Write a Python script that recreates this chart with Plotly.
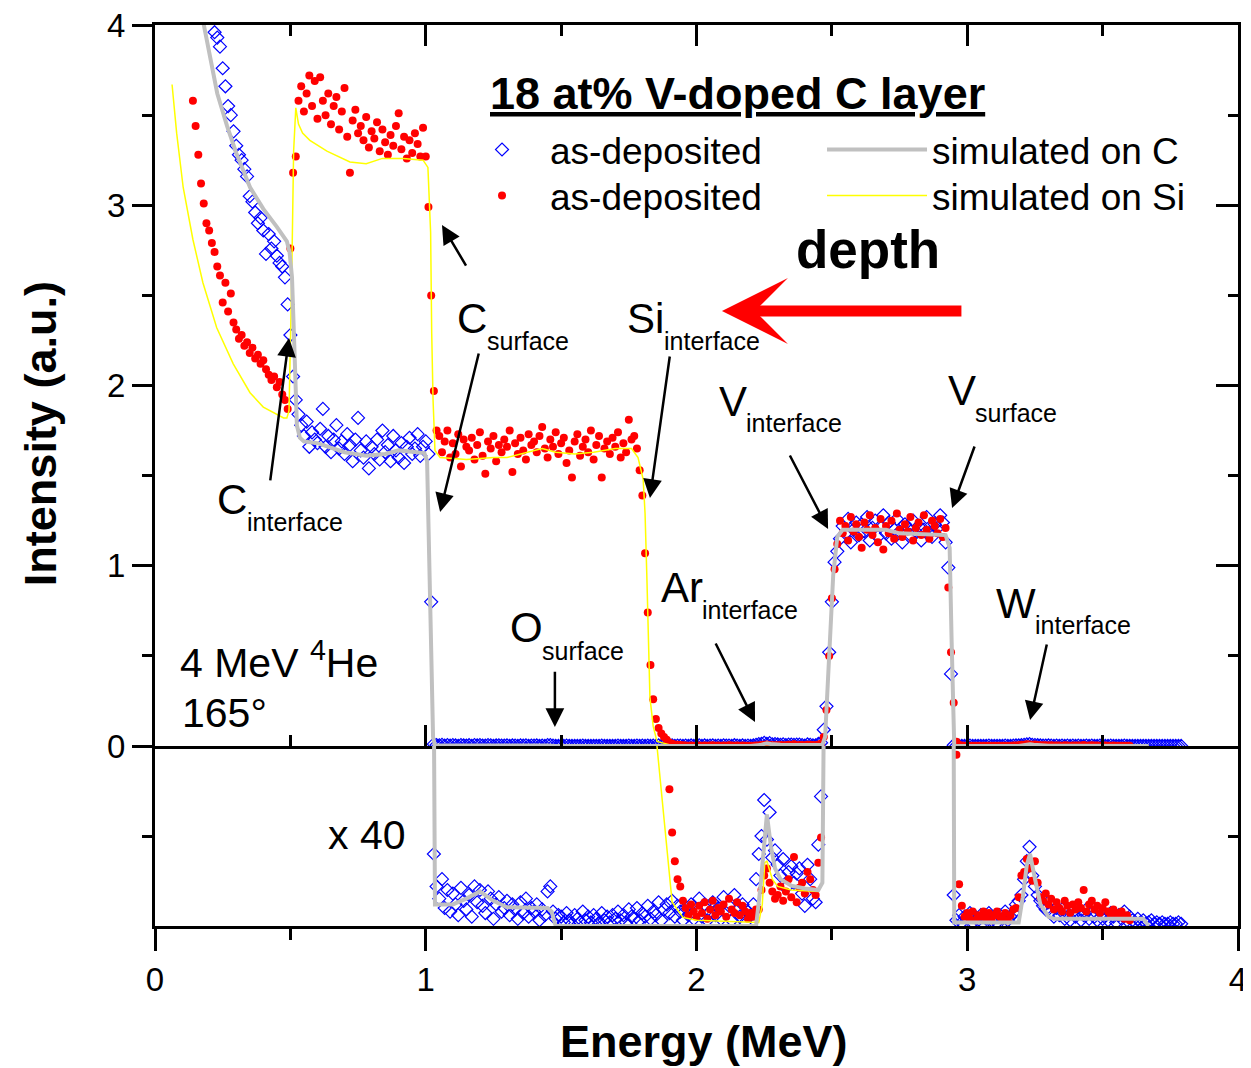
import numpy as np
import plotly.graph_objects as go

FONT = "Liberation Sans, Arial, Helvetica, sans-serif"

# ---------------- data (intensity in a.u., energy in MeV) ----------------
# as-deposited on C substrate (blue diamonds): channels every 0.01 MeV from 0.20 MeV
BLUE_E0 = 0.20
blue_on_C = [
    4.12, 4.06, 3.96, 3.93, 3.88, 3.76, 3.66, 3.55, 3.50, 3.41,   # 0.20
    3.33, 3.28, 3.25, 3.20, 3.16, 3.05, 3.02, 2.96, 2.90, 2.93,   # 0.30
    2.86, 2.73, 2.84, 2.76, 2.80, 2.72, 2.68, 2.66, 2.60, 2.45,   # 0.40
    2.28, 2.05, 1.92, 1.84, 1.78, 1.72, 1.80, 1.66, 1.74, 1.70,   # 0.50
    1.68, 1.76, 1.87, 1.66, 1.72, 1.63, 1.70, 1.78, 1.65, 1.69,   # 0.60
    1.62, 1.73, 1.67, 1.58, 1.70, 1.82, 1.64, 1.60, 1.69, 1.54,   # 0.70
    1.66, 1.62, 1.70, 1.59, 1.75, 1.63, 1.67, 1.58, 1.72, 1.64,   # 0.80
    1.60, 1.68, 1.57, 1.66, 1.71, 1.62, 1.65, 1.73, 1.61, 1.66,   # 0.90
    1.69, 1.62, 0.80, 0.0100, 0.0055, 0.0038, 0.0065, 0.0025, 0.0050, 0.0020,   # 1.00
    0.0045, 0.0030, 0.0015, 0.0053, 0.0035, 0.0023, 0.0043, 0.0013, 0.0055, 0.0033,   # 1.10
    0.0050, 0.0028, 0.0018, 0.0048, 0.0038, 0.0010, 0.0030, 0.0040, 0.0020, 0.0025,   # 1.20
    0.0035, 0.0015, 0.0030, 0.0023, 0.0010, 0.0033, 0.0018, 0.0038, 0.0013, 0.0025,   # 1.30
    0.0020, 0.0030, 0.0008, 0.0023, 0.0015, 0.0048, 0.0055, 0.0020, 0.0010, 0.0015,   # 1.40
    0.0013, 0.0005, 0.0018, 0.0008, 0.0003, 0.0015, 0.0010, 0.0005, 0.0020, 0.0008,   # 1.50
    0.0013, 0.0005, 0.0015, 0.0010, 0.0003, 0.0018, 0.0008, 0.0013, 0.0005, 0.0015,   # 1.60
    0.0010, 0.0020, 0.0008, 0.0015, 0.0005, 0.0023, 0.0013, 0.0010, 0.0025, 0.0008,   # 1.70
    0.0018, 0.0013, 0.0028, 0.0010, 0.0020, 0.0015, 0.0033, 0.0008, 0.0023, 0.0030,   # 1.80
    0.0018, 0.0035, 0.0013, 0.0028, 0.0020, 0.0008, 0.0025, 0.0015, 0.0030, 0.0010,   # 1.90
    0.0023, 0.0038, 0.0013, 0.0030, 0.0008, 0.0020, 0.0033, 0.0015, 0.0025, 0.0010,   # 2.00
    0.0040, 0.0018, 0.0028, 0.0008, 0.0043, 0.0023, 0.0013, 0.0030, 0.0005, 0.0020,   # 2.10
    0.0015, 0.0030, 0.0065, 0.0100, 0.0125, 0.0175, 0.0120, 0.0158, 0.0095, 0.0105,   # 2.20
    0.0085, 0.0070, 0.0093, 0.0053, 0.0075, 0.0083, 0.0060, 0.0073, 0.0080, 0.0045,   # 2.30
    0.0028, 0.0085, 0.0065, 0.0038, 0.0033, 0.0113, 0.0180, 0.09, 0.22, 0.52,         # 2.40
    0.80, 1.02, 1.08, 1.15, 1.22, 1.18, 1.26, 1.13, 1.20, 1.24,   # 2.50
    1.17, 1.23, 1.19, 1.27, 1.14, 1.21, 1.25, 1.16, 1.22, 1.28,   # 2.60
    1.18, 1.24, 1.15, 1.20, 1.26, 1.19, 1.13, 1.23, 1.21, 1.17,   # 2.70
    1.25, 1.19, 1.22, 1.14, 1.20, 1.27, 1.18, 1.16, 1.23, 1.21,   # 2.80
    1.28, 1.24, 1.13, 0.99, 0.40, 0.0043, 0.0008, 0.0015, 0.0005, 0.0013,   # 2.90
    0.0010, 0.0018, 0.0005, 0.0013, 0.0008, 0.0015, 0.0003, 0.0010, 0.0018, 0.0008,   # 3.00
    0.0013, 0.0005, 0.0015, 0.0010, 0.0020, 0.0008, 0.0013, 0.0018, 0.0030, 0.0035,   # 3.10
    0.0043, 0.0065, 0.0090, 0.0110, 0.0070, 0.0055, 0.0043, 0.0035, 0.0028, 0.0023,   # 3.20
    0.0033, 0.0020, 0.0013, 0.0025, 0.0015, 0.0023, 0.0010, 0.0018, 0.0008, 0.0020,   # 3.30
    0.0013, 0.0018, 0.0008, 0.0015, 0.0023, 0.0010, 0.0018, 0.0013, 0.0008, 0.0020,   # 3.40
    0.0010, 0.0015, 0.0008, 0.0018, 0.0013, 0.0005, 0.0015, 0.0010, 0.0020, 0.0008,   # 3.50
    0.0013, 0.0008, 0.0005, 0.0010, 0.0005, 0.0008, 0.0003, 0.0005, 0.0008, 0.0003,   # 3.60
    0.0005, 0.0003, 0.0005, 0.0003, 0.0003, 0.0005, 0.0003, 0.0003, 0.0005, 0.0003,   # 3.70
]

# as-deposited on Si substrate (red dots): channels every 0.01 MeV from 0.14 MeV
RED_E0 = 0.14
red_on_Si = [
    3.58, 3.44, 3.28, 3.12, 3.01, 2.90,                          # 0.14
    2.86, 2.79, 2.74, 2.66, 2.61, 2.46, 2.57, 2.41, 2.51, 2.35,   # 0.20
    2.31, 2.26, 2.28, 2.22, 2.24, 2.18, 2.21, 2.15, 2.17, 2.12,   # 0.30
    2.14, 2.09, 2.06, 2.03, 2.05, 1.99, 2.02, 1.95, 1.92, 1.87,   # 0.40
    2.76, 3.18, 3.27, 3.58, 3.66, 3.52, 3.62, 3.72, 3.55, 3.69,   # 0.50
    3.48, 3.71, 3.58, 3.50, 3.62, 3.45, 3.55, 3.60, 3.42, 3.52,   # 0.60
    3.65, 3.38, 3.18, 3.47, 3.53, 3.40, 3.44, 3.36, 3.49, 3.32,   # 0.70
    3.41, 3.37, 3.46, 3.30, 3.42, 3.35, 3.28, 3.39, 3.33, 3.44,   # 0.80
    3.51, 3.31, 3.38, 3.26, 3.36, 3.29, 3.40, 3.34, 3.27, 3.43,   # 0.90
    3.27, 2.99, 2.50, 1.97, 1.75, 1.72, 1.63, 1.69, 1.75, 1.60,   # 1.00
    1.68, 1.62, 1.73, 1.55, 1.70, 1.66, 1.64, 1.71, 1.59, 1.67,   # 1.10
    1.74, 1.61, 1.51, 1.69, 1.65, 1.72, 1.58, 1.67, 1.63, 1.70,   # 1.20
    1.66, 1.75, 1.52, 1.68, 1.62, 1.71, 1.64, 1.59, 1.73, 1.67,   # 1.30
    1.69, 1.63, 1.72, 1.77, 1.65, 1.60, 1.70, 1.66, 1.74, 1.62,   # 1.40
    1.68, 1.71, 1.57, 1.64, 1.49, 1.69, 1.73, 1.61, 1.66, 1.70,   # 1.50
    1.63, 1.75, 1.59, 1.67, 1.72, 1.49, 1.65, 1.69, 1.62, 1.71,   # 1.60
    1.66, 1.74, 1.60, 1.68, 1.63, 1.81, 1.70, 1.72, 1.65, 1.53,   # 1.70
    1.39, 1.07, 0.74, 0.45, 0.26, 0.15, 0.10, 0.07, 0.05, 0.035,  # 1.80
    0.0190, 0.0130, 0.0090, 0.0065, 0.0055, 0.0035, 0.0025, 0.0015, 0.0030, 0.0020,   # 1.90
    0.0013, 0.0028, 0.0018, 0.0033, 0.0010, 0.0023, 0.0035, 0.0015, 0.0025, 0.0020,   # 2.00
    0.0030, 0.0013, 0.0038, 0.0023, 0.0018, 0.0033, 0.0015, 0.0028, 0.0020, 0.0010,   # 2.10
    0.0018, 0.0013, 0.0023, 0.0023, 0.0050, 0.0070, 0.0080, 0.0060, 0.0048, 0.0038,   # 2.20
    0.0043, 0.0055, 0.0035, 0.0048, 0.0065, 0.0040, 0.0096, 0.0033, 0.0053, 0.0060,   # 2.30
    0.0045, 0.0075, 0.0065, 0.0050, 0.0043, 0.0088, 0.0123, 0.05, 0.20, 0.50,         # 2.40
    0.82, 0.98, 1.12, 1.25, 1.18, 1.22, 1.14, 1.27, 1.19, 1.23,   # 2.50
    1.16, 1.10, 1.24, 1.20, 1.28, 1.17, 1.21, 1.13, 1.26, 1.09,   # 2.60
    1.22, 1.18, 1.25, 1.15, 1.29, 1.20, 1.16, 1.23, 1.19, 1.27,   # 2.70
    1.14, 1.21, 1.24, 1.17, 1.28, 1.20, 1.15, 1.25, 1.22, 1.18,   # 2.80
    1.26, 1.16, 1.21, 0.88, 0.52, 0.24, 0.0238, 0.0058, 0.0028, 0.0013,   # 2.90
    0.0018, 0.0010, 0.0020, 0.0008, 0.0015, 0.0013, 0.0020, 0.0010, 0.0018, 0.0008,   # 3.00
    0.0015, 0.0020, 0.0013, 0.0010, 0.0018, 0.0008, 0.0015, 0.0023, 0.0025, 0.0040,   # 3.10
    0.0070, 0.0075, 0.0093, 0.0080, 0.0063, 0.0090, 0.0060, 0.0040, 0.0035, 0.0045,   # 3.20
    0.0030, 0.0038, 0.0023, 0.0033, 0.0025, 0.0020, 0.0035, 0.0028, 0.0018, 0.0030,   # 3.30
    0.0023, 0.0033, 0.0025, 0.0050, 0.0020, 0.0030, 0.0035, 0.0023, 0.0028, 0.0018,   # 3.40
    0.0025, 0.0033, 0.0020, 0.0015, 0.0023, 0.0018, 0.0013, 0.0020, 0.0010, 0.0015,   # 3.50
    0.0008,                                                                           # 3.60
]

# simulation for the layer on C (grey line)
simC_E = [0.17, 0.20, 0.23, 0.266, 0.30, 0.351, 0.40, 0.45, 0.487, 0.497,
          0.506, 0.515, 0.524, 0.535, 0.55, 0.60, 0.70, 0.78, 0.85, 0.90,
          0.95, 0.995, 1.005, 1.015, 1.022, 1.027, 1.034, 1.10, 1.15, 1.20,
          1.25, 1.30, 1.45, 1.465, 1.48, 2.20, 2.22, 2.235, 2.25, 2.26,
          2.275, 2.29, 2.31, 2.35, 2.40, 2.45, 2.465, 2.475, 2.49, 2.505,
          2.52, 2.54, 2.70, 2.75, 2.92, 2.935, 2.942, 2.948, 2.952, 3.19,
          3.205, 3.22, 3.232, 3.245, 3.27, 3.30, 3.32, 3.65, 3.67]
simC_I = [4.08, 3.85, 3.62, 3.44, 3.29, 3.10, 2.98, 2.88, 2.80, 2.74,
          2.60, 2.20, 1.78, 1.71, 1.69, 1.68, 1.63, 1.61, 1.62, 1.64,
          1.63, 1.625, 1.58, 1.00, 0.40, 0.05, 0.003, 0.003, 0.0038, 0.0048,
          0.0035, 0.0026, 0.0025, 0.002, 0.0, 0.0, 0.0, 0.005, 0.012, 0.0155,
          0.011, 0.008, 0.0065, 0.0056, 0.0052, 0.005, 0.006, 0.05, 0.50, 0.95,
          1.16, 1.20, 1.20, 1.18, 1.17, 1.10, 0.60, 0.05, 0.0005, 0.0005,
          0.004, 0.0085, 0.010, 0.0075, 0.003, 0.0013, 0.001, 0.001, 0.0]

# simulation for the layer on Si (yellow line)
simSi_E = [0.063, 0.08, 0.104, 0.14, 0.177, 0.228, 0.289, 0.351, 0.40, 0.45,
           0.475, 0.487, 0.495, 0.505, 0.512, 0.52, 0.53, 0.545, 0.572, 0.635,
           0.72, 0.78, 0.84, 0.917, 0.99, 1.008, 1.018, 1.022, 1.027, 1.034,
           1.053, 1.15, 1.25, 1.30, 1.38, 1.43, 1.48, 1.55, 1.62, 1.70,
           1.76, 1.784, 1.803, 1.81, 1.817, 1.822, 1.828, 1.840, 1.854, 1.91,
           1.95, 2.00, 2.23, 2.243, 2.252, 2.26, 2.28, 2.30, 2.35, 2.45,
           2.465, 2.475, 2.49, 2.505, 2.52, 2.54, 2.70, 2.75, 2.92, 2.935,
           2.942, 2.948, 2.952, 3.19, 3.205, 3.22, 3.232, 3.245, 3.27, 3.30,
           3.32, 3.65, 3.67]
simSi_I = [3.67, 3.40, 3.10, 2.81, 2.57, 2.32, 2.12, 1.96, 1.88, 1.84,
           1.82, 1.82, 1.86, 2.60, 3.30, 3.54, 3.45, 3.40, 3.36, 3.30,
           3.24, 3.23, 3.26, 3.26, 3.25, 3.21, 2.85, 2.29, 1.92, 1.64,
           1.60, 1.59, 1.60, 1.60, 1.63, 1.65, 1.63, 1.62, 1.63, 1.65,
           1.65, 1.60, 1.48, 1.29, 0.92, 0.55, 0.27, 0.11, 0.025, 0.0033,
           0.0012, 0.0008, 0.0005, 0.003, 0.0088, 0.009, 0.0065, 0.0055, 0.005, 0.0048,
           0.006, 0.05, 0.50, 0.95, 1.16, 1.20, 1.20, 1.18, 1.17, 1.10,
           0.60, 0.05, 0.0005, 0.0005, 0.004, 0.0085, 0.010, 0.0075, 0.003, 0.0013,
           0.001, 0.001, 0.0]

MAGNIFY = 40      # lower panel shows intensity x 40

assert len(simC_E) == len(simC_I), (len(simC_E), len(simC_I))
assert len(simSi_E) == len(simSi_I), (len(simSi_E), len(simSi_I))

blue_E = np.round(BLUE_E0 + 0.01 * np.arange(len(blue_on_C)), 3)
red_E = np.round(RED_E0 + 0.01 * np.arange(len(red_on_Si)), 3)
blue_I = np.array(blue_on_C)
red_I = np.array(red_on_Si)

# ---------------- figure ----------------
BLUE = "#0000FF"
RED = "#FF0000"
GREY = "#C0C0C0"
YELLOW = "#FFFF00"

fig = go.Figure()

def add_set(xa, ya, factor, show):
    fig.add_trace(go.Scatter(
        x=blue_E, y=blue_I * factor, mode="markers", name="as-deposited",
        marker=dict(symbol="diamond-open", size=10, color=BLUE, line=dict(width=1.2, color=BLUE)),
        xaxis=xa, yaxis=ya, showlegend=show, legend="legend"))
    fig.add_trace(go.Scatter(
        x=red_E, y=red_I * factor, mode="markers", name="as-deposited",
        marker=dict(symbol="circle", size=8, color=RED),
        xaxis=xa, yaxis=ya, showlegend=show, legend="legend3"))
    fig.add_trace(go.Scatter(
        x=simSi_E, y=np.array(simSi_I) * factor, mode="lines", name="simulated on Si",
        line=dict(color=YELLOW, width=1.5),
        xaxis=xa, yaxis=ya, showlegend=show, legend="legend4"))
    fig.add_trace(go.Scatter(
        x=simC_E, y=np.array(simC_I) * factor, mode="lines", name="simulated on C",
        line=dict(color=GREY, width=4),
        xaxis=xa, yaxis=ya, showlegend=show, legend="legend2"))

add_set("x", "y", 1, True)
add_set("x2", "y2", MAGNIFY, False)

D = 180 / 901  # split between the two panels

axis_common = dict(showline=True, linecolor="black", linewidth=3, showgrid=False,
                   zeroline=False, tickcolor="black", tickwidth=3)

legend_font = dict(size=37, family=FONT, color="black")

def leg(x, y, itemwidth):
    return dict(orientation="v", x=x, xanchor="left", y=y, yanchor="top",
                font=legend_font, itemwidth=itemwidth, tracegroupgap=0,
                bgcolor="rgba(0,0,0,0)", borderwidth=0)

fig.update_layout(
    width=1243, height=1060,
    margin=dict(l=147, r=13, t=17, b=142, autoexpand=False),
    plot_bgcolor="white", paper_bgcolor="white",
    font=dict(family=FONT, color="black", size=33),
    xaxis=dict(domain=[0, 1], anchor="y", range=[0, 4], mirror="ticks",
               ticks="inside", ticklen=21, dtick=1, tick0=0, showticklabels=False,
               minor=dict(dtick=0.5, ticklen=11, tickwidth=3, tickcolor="black", ticks="inside"),
               **axis_common),
    xaxis2=dict(domain=[0, 1], anchor="y2", range=[0, 4], matches="x",
                ticks="outside", ticklen=22, dtick=1, tick0=0,
                tickfont=dict(size=33, family=FONT), ticklabeloverflow="allow",
                minor=dict(dtick=0.5, ticklen=11, tickwidth=3, tickcolor="black", ticks="outside"),
                **axis_common),
    yaxis=dict(domain=[D, 1], anchor="x", range=[0, 4], ticks="outside", ticklen=20,
               dtick=1, tick0=0, tickfont=dict(size=33, family=FONT), ticklabeloverflow="allow",
               minor=dict(dtick=0.5, ticklen=10, tickwidth=3, tickcolor="black", ticks="outside"),
               **axis_common),
    yaxis3=dict(overlaying="y", side="right", anchor="x", range=[0, 4], ticks="inside",
                ticklen=22, dtick=1, tick0=0, showticklabels=False,
                minor=dict(dtick=0.5, ticklen=10, tickwidth=3, tickcolor="black", ticks="inside"),
                **axis_common),
    yaxis2=dict(domain=[0, D], anchor="x2", range=[0, 1], ticks="outside", ticklen=10,
                tickvals=[0.5], showticklabels=False, **axis_common),
    yaxis4=dict(overlaying="y2", side="right", anchor="x2", range=[0, 1], ticks="inside",
                ticklen=10, tickvals=[0.5], showticklabels=False, **axis_common),
    legend=leg(0.2761, 0.8957, 86),
    legend3=leg(0.2761, 0.8446, 86),
    legend2=leg(0.6159, 0.8957, 100),
    legend4=leg(0.6159, 0.8446, 100),
)

# traces for the right-hand axes (so they are drawn)
fig.add_trace(go.Scatter(x=[None], y=[None], xaxis="x", yaxis="y3", showlegend=False, hoverinfo="skip"))
fig.add_trace(go.Scatter(x=[None], y=[None], xaxis="x2", yaxis="y4", showlegend=False, hoverinfo="skip"))

ann = []
# legend heading
ann.append(dict(text="<b><u>18 at% V-doped C layer</u></b>", xref="paper", yref="paper",
                x=0.3075, y=0.9245, xanchor="left", yanchor="middle", showarrow=False,
                font=dict(size=45, family=FONT)))
# axis titles
ann.append(dict(text="<b>Intensity (a.u.)</b>", xref="paper", yref="paper", x=-0.1062, y=0.547,
                xanchor="center", yanchor="middle",
                textangle=-90, showarrow=False, font=dict(size=45, family=FONT)))
ann.append(dict(text="<b>Energy (MeV)</b>", xref="paper", yref="paper", x=0.507, y=-0.1287,
                xanchor="center", yanchor="middle",
                showarrow=False, font=dict(size=45, family=FONT)))

# peak labels: (main text, sub text, x main, y main, x sub, y sub)
labels = [
    ("C", "surface", 1.108, 2.374, 1.219, 2.247),
    ("Si", "interface", 1.736, 2.374, 1.873, 2.247),
    ("C", "interface", 0.2216, 1.365, 0.3324, 1.243),
    ("V", "interface", 2.076, 1.914, 2.175, 1.792),
    ("V", "surface", 2.921, 1.975, 3.021, 1.847),
    ("Ar", "interface", 1.861, 0.877, 2.013, 0.755),
    ("W", "interface", 3.099, 0.788, 3.243, 0.671),
    ("O", "surface", 1.304, 0.655, 1.422, 0.527),
]
for main, sub, xm, ym, xs, ys in labels:
    ann.append(dict(text=main, x=xm, y=ym, xref="x", yref="y", xanchor="left", yanchor="middle",
                    showarrow=False, font=dict(size=42, family=FONT)))
    ann.append(dict(text=sub, x=xs, y=ys, xref="x", yref="y", xanchor="left", yanchor="middle",
                    showarrow=False, font=dict(size=25, family=FONT)))

# black arrows: (tail x, tail y, head x, head y)
arrows = [
    (1.152, 2.657, 1.060, 2.890),
    (1.197, 2.186, 1.053, 1.298),
    (0.425, 1.465, 0.495, 2.264),
    (1.902, 2.169, 1.828, 1.376),
    (2.342, 1.620, 2.486, 1.204),
    (3.029, 1.670, 2.944, 1.320),
    (3.295, 0.571, 3.232, 0.144),
    (2.068, 0.577, 2.216, 0.133),
    (1.477, 0.420, 1.477, 0.105),
]
for tx, ty, hx, hy in arrows:
    ann.append(dict(text="", x=hx, y=hy, ax=tx, ay=ty, xref="x", yref="y", axref="x", ayref="y",
                    showarrow=True, arrowhead=2, arrowsize=1.5, arrowwidth=2.5, arrowcolor="black",
                    standoff=0, startstandoff=0))

# depth arrow
ann.append(dict(text="", x=2.094, y=2.413, ax=2.984, ay=2.413, xref="x", yref="y", axref="x", ayref="y",
                showarrow=True, arrowhead=3, arrowsize=1.0, arrowwidth=11, arrowcolor=RED))
ann.append(dict(text="<b>depth</b>", x=2.633, y=2.752, xref="x", yref="y", showarrow=False,
                font=dict(size=53, family=FONT)))

# beam info
ann.append(dict(text="4 MeV <sup>4</sup>He", x=0.085, y=0.477, xref="x", yref="y", xanchor="left",
                yanchor="middle", showarrow=False, font=dict(size=41, family=FONT)))
ann.append(dict(text="165°", x=0.092, y=0.183, xref="x", yref="y", xanchor="left",
                yanchor="middle", showarrow=False, font=dict(size=41, family=FONT)))
ann.append(dict(text="x 40", x=0.632, y=0.506, xref="x2", yref="y2", xanchor="left",
                yanchor="middle", showarrow=False, font=dict(size=41, family=FONT)))

fig.update_layout(annotations=ann)

fig.write_html("out.html")
